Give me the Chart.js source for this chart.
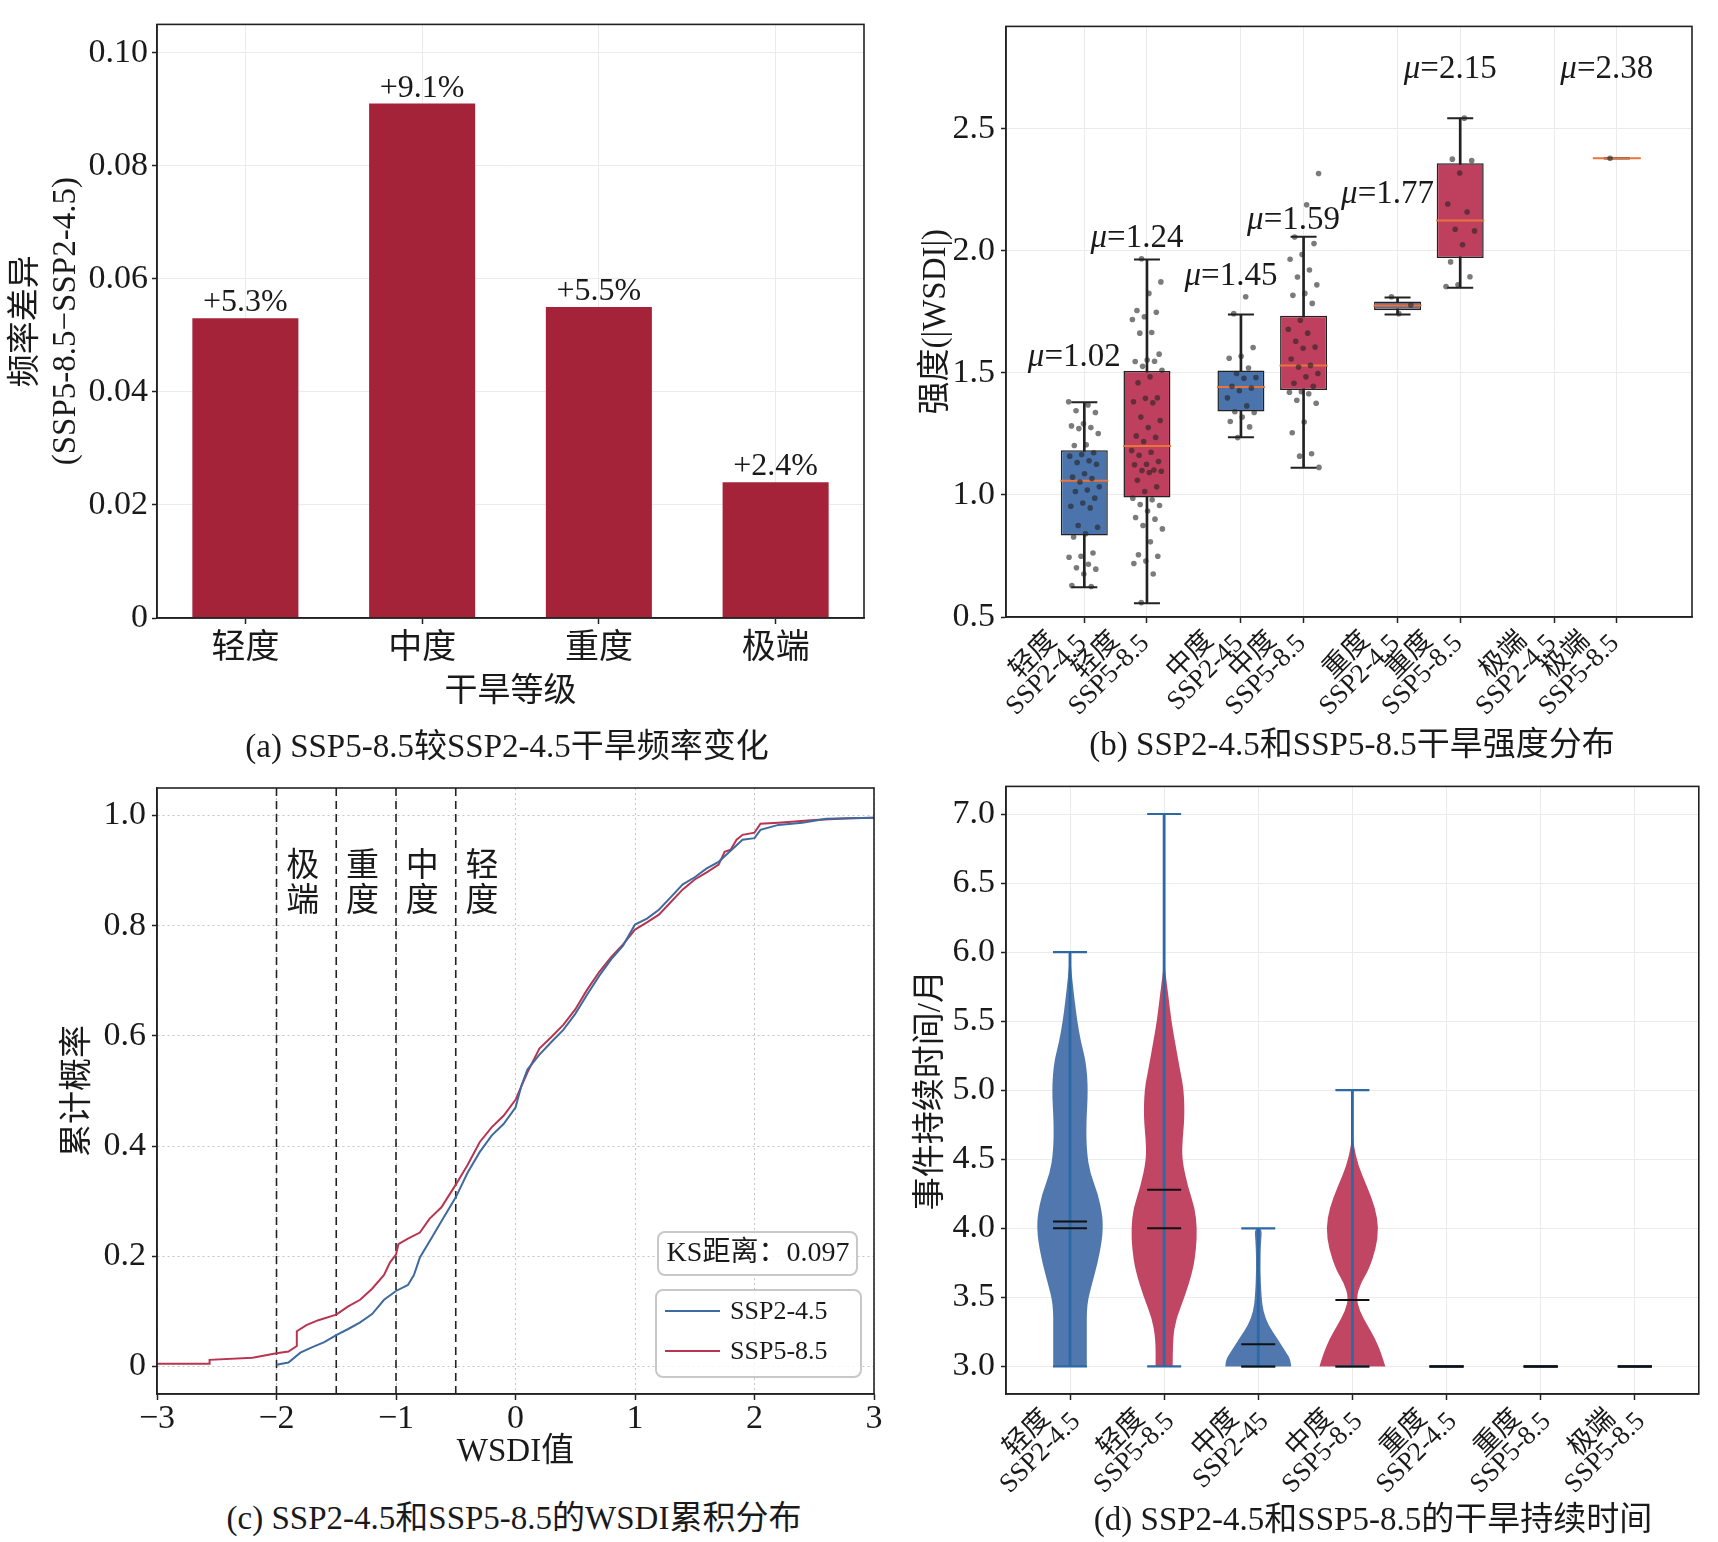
<!DOCTYPE html>
<html>
<head>
<meta charset="utf-8">
<script src="https://cdn.jsdelivr.net/npm/chart.js@4.4.1/dist/chart.umd.min.js"></script>
<style>
  body { margin: 0; background: #fff; width: 1718px; height: 1542px; position: relative; overflow: hidden; }
  canvas { position: absolute; }
  .cap { position: absolute; font: 33px 'Liberation Serif', 'Noto Sans CJK SC', serif; color: #1a1a1a;
         transform: translate(-50%, -50%); white-space: nowrap; }
</style>
</head>
<body>
<canvas id="ca" width="880" height="720" style="left:0;top:0"></canvas>
<canvas id="cb" width="838" height="730" style="left:880px;top:0"></canvas>
<canvas id="cc" width="895" height="720" style="left:0;top:760px"></canvas>
<canvas id="cd" width="838" height="780" style="left:880px;top:760px"></canvas>
<div class="cap" style="left:507px;top:743px">(a) SSP5-8.5较SSP2-4.5干旱频率变化</div>
<div class="cap" style="left:1352px;top:741px">(b) SSP2-4.5和SSP5-8.5干旱强度分布</div>
<div class="cap" style="left:514px;top:1515px">(c) SSP2-4.5和SSP5-8.5的WSDI累积分布</div>
<div class="cap" style="left:1373px;top:1516px">(d) SSP2-4.5和SSP5-8.5的干旱持续时间</div>
<script>
// ---- (a) 频率差异 ----
const droughtLevels = ['轻度', '中度', '重度', '极端'];
const freqDiff = [0.053, 0.091, 0.055, 0.024];
const freqTicks = [0, 0.02, 0.04, 0.06, 0.08, 0.10];

// ---- (b) 干旱强度箱线图 ----
const boxLabels = [['轻度', 'SSP2-4.5'], ['轻度', 'SSP5-8.5'], ['中度', 'SSP2-45'], ['中度', 'SSP5-8.5'],
                   ['重度', 'SSP2-4.5'], ['重度', 'SSP5-8.5'], ['极端', 'SSP2-4.5'], ['极端', 'SSP5-8.5']];
const boxPos = [-0.2, 0.2, 0.8, 1.2, 1.8, 2.2, 2.8, 3.2];
const boxQ1 = [0.834, 0.990, 1.342, 1.430, 1.757, 1.971, null, 2.38];
const boxQ3 = [1.183, 1.508, 1.510, 1.734, 1.793, 2.359, null, 2.38];
const boxMedian = [1.058, 1.201, 1.442, 1.531, 1.776, 2.125, null, 2.38];
const boxLow = [0.622, 0.556, 1.237, 1.112, 1.739, 1.849, null, 2.38];
const boxHigh = [1.380, 1.965, 1.739, 2.058, 1.809, 2.544, null, 2.38];
const boxMean = [1.02, 1.24, 1.45, 1.59, 1.77, 2.15, null, 2.38];
const muLabelY = [1.566, 2.052, 1.894, 2.125, 2.232, 2.743, null, 2.743];
const intensityTicks = [0.5, 1.0, 1.5, 2.0, 2.5];

const ptsLight245 = [1.382, 1.369, 1.345, 1.338, 1.292, 1.283, 1.276, 1.272, 1.252, 1.206, 1.203, 1.173, 1.166, 1.159,
  1.140, 1.133, 1.126, 1.087, 1.073, 1.067, 1.053, 1.034, 1.020, 1.014, 0.987, 0.967, 0.954, 0.947, 0.875, 0.868,
  0.841, 0.828, 0.762, 0.749, 0.745, 0.716, 0.702, 0.696, 0.676, 0.629, 0.625];
const ptsLight585 = [1.968, 1.873, 1.826, 1.756, 1.749, 1.730, 1.719, 1.666, 1.663, 1.577, 1.553, 1.547, 1.548, 1.527,
  1.511, 1.484, 1.460, 1.398, 1.396, 1.382, 1.378, 1.319, 1.305, 1.276, 1.242, 1.236, 1.219, 1.182, 1.175, 1.163,
  1.137, 1.126, 1.124, 1.102, 1.100, 1.097, 1.092, 1.060, 1.034, 1.014, 0.987, 0.980, 0.961, 0.957, 0.934, 0.908,
  0.901, 0.875, 0.861, 0.808, 0.755, 0.749, 0.729, 0.719, 0.676, 0.559];
const ptsMod245 = [1.812, 1.743, 1.604, 1.568, 1.560, 1.520, 1.498, 1.481, 1.478, 1.445, 1.438, 1.427, 1.398, 1.365,
  1.341, 1.338, 1.319, 1.301, 1.279, 1.235];
const ptsMod585 = [2.317, 2.189, 2.057, 2.030, 1.985, 1.966, 1.922, 1.893, 1.861, 1.826, 1.818, 1.785, 1.716, 1.679,
  1.663, 1.630, 1.606, 1.601, 1.557, 1.531, 1.524, 1.498, 1.484, 1.458, 1.445, 1.423, 1.421, 1.415, 1.388, 1.376,
  1.299, 1.255, 1.169, 1.159, 1.113];
const ptsSev245 = [1.812, 1.778, 1.743];
const ptsSev585 = [2.544, 2.376, 2.370, 2.319, 2.192, 2.159, 2.089, 2.082, 2.025, 1.955, 1.894, 1.861, 1.854];
const ptsExt245 = [];
const ptsExt585 = [2.38];
const boxPoints = [ptsLight245, ptsLight585, ptsMod245, ptsMod585, ptsSev245, ptsSev585, ptsExt245, ptsExt585];

// ---- (c) WSDI 累积分布 ----
const cdfX245 = [-2.0, -1.9, -1.8, -1.7, -1.6, -1.5, -1.4, -1.3, -1.2, -1.1, -1.0, -0.9, -0.85, -0.8, -0.7, -0.6,
  -0.5, -0.4, -0.3, -0.2, -0.1, 0, 0.05, 0.1, 0.2, 0.3, 0.4, 0.5, 0.6, 0.7, 0.8, 0.9, 1.0, 1.1, 1.2, 1.3, 1.4, 1.5,
  1.6, 1.7, 1.8, 1.9, 2.0, 2.05, 2.2, 2.4, 2.6, 3.0];
const cdfY245 = [0.003, 0.007, 0.025, 0.035, 0.044, 0.057, 0.068, 0.080, 0.095, 0.121, 0.137, 0.148, 0.166, 0.198,
  0.234, 0.271, 0.307, 0.352, 0.389, 0.419, 0.440, 0.470, 0.510, 0.539, 0.566, 0.589, 0.611, 0.640, 0.675, 0.709,
  0.739, 0.764, 0.802, 0.813, 0.829, 0.852, 0.875, 0.888, 0.904, 0.916, 0.936, 0.956, 0.959, 0.974, 0.983, 0.987,
  0.994, 0.996];
const cdfX585 = [-3.0, -2.56, -2.56, -2.2, -2.0, -1.9, -1.83, -1.83, -1.75, -1.65, -1.5, -1.4, -1.3, -1.2, -1.1,
  -1.05, -1.0, -0.98, -0.9, -0.8, -0.72, -0.62, -0.5, -0.4, -0.3, -0.2, -0.1, 0, 0.1, 0.2, 0.3, 0.4, 0.5, 0.6, 0.7,
  0.8, 0.9, 1.0, 1.1, 1.2, 1.3, 1.4, 1.5, 1.6, 1.7, 1.75, 1.8, 1.85, 1.9, 2.0, 2.05, 2.2, 2.5, 2.8, 3.0];
const cdfY585 = [0.005, 0.005, 0.012, 0.016, 0.024, 0.027, 0.037, 0.064, 0.075, 0.084, 0.094, 0.109, 0.121, 0.141,
  0.166, 0.189, 0.203, 0.222, 0.232, 0.243, 0.268, 0.289, 0.330, 0.366, 0.407, 0.434, 0.455, 0.484, 0.534, 0.577,
  0.598, 0.620, 0.648, 0.684, 0.716, 0.743, 0.766, 0.793, 0.806, 0.820, 0.843, 0.866, 0.884, 0.897, 0.911, 0.934,
  0.938, 0.956, 0.965, 0.969, 0.985, 0.987, 0.992, 0.995, 0.996];
const thresholds = [-2, -1.5, -1, -0.5];
const thresholdNames = ['极端', '重度', '中度', '轻度'];
const ksDistance = 0.097;
const wsdiTicks = [-3, -2, -1, 0, 1, 2, 3];
const probTicks = [0, 0.2, 0.4, 0.6, 0.8, 1.0];

// ---- (d) 干旱持续时间小提琴图 ----
const durLabels = [['轻度', 'SSP2-4.5'], ['轻度', 'SSP5-8.5'], ['中度', 'SSP2-45'], ['中度', 'SSP5-8.5'],
                   ['重度', 'SSP2-4.5'], ['重度', 'SSP5-8.5'], ['极端', 'SSP5-8.5']];
const durPos = [0, 1, 2, 3, 4, 5, 6];
const durMin = [3, 3, 3, 3, 3, 3, 3];
const durMax = [6, 7, 4, 5, 3, 3, 3];
const durMean = [4.05, 4.28, 3.16, 3.48, 3, 3, 3];
const durMedian = [4, 4, 3, 3, 3, 3, 3];
const durTicks = [3.0, 3.5, 4.0, 4.5, 5.0, 5.5, 6.0, 6.5, 7.0];
const violinLevels = [
  [3.0, 3.25, 3.45, 3.6, 3.75, 3.9, 4.0, 4.1, 4.25, 4.4, 4.55, 4.75, 5.0, 5.2, 5.35, 5.5, 5.65, 5.8, 5.9, 6.0],
  [3.0, 3.2, 3.35, 3.5, 3.7, 3.85, 4.0, 4.15, 4.3, 4.5, 4.65, 4.8, 5.0, 5.15, 5.35, 5.5, 5.7, 5.85, 5.95],
  [3.0, 3.05, 3.1, 3.2, 3.3, 3.4, 3.5, 3.7, 3.9, 4.0],
  [3.0, 3.1, 3.2, 3.3, 3.4, 3.5, 3.6, 3.7, 3.85, 4.0, 4.15, 4.3, 4.45, 4.6, 4.7],
  [], [], []
];
const violinDensity = [
  [0.51, 0.51, 0.51, 0.67, 0.84, 0.96, 1.0, 0.98, 0.85, 0.61, 0.51, 0.49, 0.55, 0.49, 0.33, 0.22, 0.14, 0.07, 0.03, 0],
  [0.26, 0.26, 0.37, 0.62, 0.88, 0.97, 1.0, 0.93, 0.72, 0.54, 0.56, 0.62, 0.60, 0.48, 0.33, 0.22, 0.12, 0.04, 0],
  [1.0, 0.98, 0.85, 0.58, 0.30, 0.15, 0.10, 0.06, 0.08, 0.12],
  [1.0, 0.87, 0.69, 0.45, 0.22, 0.12, 0.25, 0.50, 0.71, 0.80, 0.69, 0.45, 0.18, 0.04, 0],
  [], [], []
];

// ---- 样式 ----
const FONT = "'Liberation Serif', 'Noto Sans CJK SC', serif";
const TEXT = '#1a1a1a';
const AXIS = '#222222';
const GRID = '#ebebeb';
const BAR_RED = '#a52338';
const BLUE = '#4a74ab';
const RED = '#bf405e';
const PURPLE = '#6e6b88';
const MEDIAN = '#e8743b';
const DOT = 'rgba(35,35,35,0.6)';
const CDF_BLUE = '#3e6b9f';
const CDF_RED = '#b73550';
const VIOLIN_LINE = '#2d6aa5';
const VIOLIN_HALF = 0.35;
const PAD = '\u2002\u2009';   // 让两行旋转标签大致居中

Chart.defaults.font.family = FONT;
Chart.defaults.color = TEXT;
Chart.defaults.animation = false;
Chart.defaults.events = [];
Chart.defaults.plugins.legend.display = false;
Chart.defaults.plugins.tooltip.enabled = false;

const fixW = w => s => { s.width = w; };
const fixH = h => s => { s.height = h; };
const setTicks = vals => s => { s.ticks = vals.map(v => ({ value: v })); };
const scenColor = lbl => (lbl[1].startsWith('SSP2') ? BLUE : RED);
const jitter = k => (((k * 0.6180339887) % 1) - 0.5) * 0.2;
const twoLine = lbl => [lbl[0] + PAD, lbl[1]];

// 四周边框
Chart.register({
  id: 'frame',
  afterDraw(chart) {
    const { ctx, chartArea: a } = chart;
    ctx.save();
    ctx.strokeStyle = AXIS;
    ctx.lineWidth = 1.6;
    ctx.strokeRect(a.left, a.top, a.width, a.height);
    ctx.restore();
  }
});

function gridOpts(extra) {
  return Object.assign({ color: GRID, offset: false, tickLength: 5, tickColor: AXIS, tickWidth: 1.5 }, extra || {});
}

// ================= (a) =================
const barLabelPlugin = {
  id: 'barLabels',
  afterDatasetsDraw(chart) {
    const { ctx } = chart;
    ctx.save();
    ctx.font = `32px ${FONT}`;
    ctx.fillStyle = TEXT;
    ctx.textAlign = 'center';
    ctx.textBaseline = 'alphabetic';
    chart.getDatasetMeta(0).data.forEach((bar, i) => {
      ctx.fillText('+' + (freqDiff[i] * 100).toFixed(1) + '%', bar.x, bar.y - 7);
    });
    ctx.restore();
  }
};

new Chart(document.getElementById('ca'), {
  type: 'bar',
  data: {
    labels: droughtLevels,
    datasets: [{ data: freqDiff, backgroundColor: BAR_RED, barPercentage: 0.6, categoryPercentage: 1 }]
  },
  options: {
    responsive: false,
    layout: { padding: { top: 9, right: 16, left: 0, bottom: 0 } },
    scales: {
      x: {
        grid: gridOpts({ tickLength: 6 }),
        border: { color: AXIS, width: 1.5 },
        ticks: { font: { size: 34 }, padding: 5 },
        title: { display: true, text: '干旱等级', font: { size: 33 }, padding: { top: 0, bottom: 8 } },
        afterFit: fixH(102)
      },
      y: {
        min: 0, max: 0.105,
        afterBuildTicks: setTicks(freqTicks),
        grid: gridOpts(),
        border: { color: AXIS, width: 1.5 },
        ticks: { font: { size: 34 }, padding: 4, callback: v => (v === 0 ? '0' : v.toFixed(2)) },
        title: { display: true, text: ['频率差异', '(SSP5-8.5−SSP2-4.5)'], font: { size: 33 }, padding: { top: 7, bottom: 0 } },
        afterFit: fixW(157)
      }
    }
  },
  plugins: [barLabelPlugin]
});

// ================= (b) =================
const boxIdx = boxPos.map((p, i) => i).filter(i => boxQ1[i] != null);
const whiskerData = boxIdx.map(i => ({ x: boxPos[i], y: [boxLow[i], boxHigh[i]] }));
const boxData = boxIdx.map(i => ({ x: boxPos[i], y: [boxQ1[i], boxQ3[i]] }));
const boxFill = boxIdx.map(i => (boxLabels[i][0] === '重度' && boxLabels[i][1].startsWith('SSP2') ? PURPLE : scenColor(boxLabels[i])));
const capData = boxIdx.flatMap(i => [{ x: boxPos[i], y: boxLow[i] }, { x: boxPos[i], y: boxHigh[i] }]);
const medianData = boxIdx.map(i => ({ x: boxPos[i], y: boxMedian[i] }));
const jitterData = [];
boxPoints.forEach((pts, i) => pts.forEach((v, k) => jitterData.push({ x: boxPos[i] + jitter(k + i * 7), y: v })));

const muPlugin = {
  id: 'muLabels',
  afterDatasetsDraw(chart) {
    const { ctx, scales: { x, y } } = chart;
    ctx.save();
    ctx.fillStyle = TEXT;
    ctx.textBaseline = 'middle';
    ctx.textAlign = 'left';
    boxMean.forEach((m, i) => {
      if (m == null) return;
      const px = x.getPixelForValue(boxPos[i]) - 10;
      const py = y.getPixelForValue(muLabelY[i]);
      const rest = '=' + m.toFixed(2);
      ctx.font = `italic 33px ${FONT}`;
      const w1 = ctx.measureText('μ').width;
      ctx.font = `33px ${FONT}`;
      const w2 = ctx.measureText(rest).width;
      const x0 = px - (w1 + w2) / 2;
      ctx.font = `italic 33px ${FONT}`;
      ctx.fillText('μ', x0, py);
      ctx.font = `33px ${FONT}`;
      ctx.fillText(rest, x0 + w1, py);
    });
    ctx.restore();
  }
};

new Chart(document.getElementById('cb'), {
  type: 'bar',
  data: {
    datasets: [
      { type: 'bar', data: whiskerData, backgroundColor: AXIS, barThickness: 2, grouped: false, order: 5 },
      { type: 'bar', data: boxData, backgroundColor: boxFill, borderColor: AXIS, borderWidth: 1.5,
        borderSkipped: false, barPercentage: 0.75, categoryPercentage: 1, grouped: false, order: 4 },
      { type: 'scatter', data: capData, pointStyle: 'line', pointRadius: 13, pointBorderColor: AXIS,
        pointBorderWidth: 2, order: 3 },
      { type: 'scatter', data: medianData, pointStyle: 'line', pointRadius: 24, pointBorderColor: MEDIAN,
        pointBorderWidth: 2, order: 2 },
      { type: 'scatter', data: jitterData, pointRadius: 2.8, pointBackgroundColor: DOT, pointBorderWidth: 0, order: 1 }
    ]
  },
  options: {
    responsive: false,
    layout: { padding: { top: 9, right: 3, left: 0, bottom: 0 } },
    scales: {
      x: {
        type: 'linear', min: -0.7, max: 3.68, offset: false,
        afterBuildTicks: setTicks(boxPos),
        grid: gridOpts({ tickLength: 6 }),
        border: { color: AXIS, width: 1.5 },
        ticks: { font: { size: 27, lineHeight: 0.85 }, autoSkip: false, minRotation: 45, maxRotation: 45,
                 padding: -8, labelOffset: -18, callback: (v, i) => twoLine(boxLabels[i]) },
        afterFit: fixH(113)
      },
      y: {
        min: 0.5, max: 2.92,
        afterBuildTicks: setTicks(intensityTicks),
        grid: gridOpts(),
        border: { color: AXIS, width: 1.5 },
        ticks: { font: { size: 34 }, padding: 6, callback: v => v.toFixed(1) },
        title: { display: true, text: '强度(|WSDI|)', font: { size: 33 }, padding: { top: 37, bottom: 0 } },
        afterFit: fixW(126)
      }
    }
  },
  plugins: [muPlugin]
});

// ================= (c) =================
const thresholdPlugin = {
  id: 'thresholds',
  beforeDatasetsDraw(chart) {
    const { ctx, scales: { x, y }, chartArea: a } = chart;
    ctx.save();
    ctx.strokeStyle = AXIS;
    ctx.lineWidth = 1.6;
    ctx.setLineDash([8, 5]);
    thresholds.forEach(t => {
      const px = x.getPixelForValue(t);
      ctx.beginPath();
      ctx.moveTo(px, a.top);
      ctx.lineTo(px, a.bottom);
      ctx.stroke();
    });
    ctx.setLineDash([]);
    ctx.fillStyle = TEXT;
    ctx.font = `33px ${FONT}`;
    ctx.textAlign = 'center';
    ctx.textBaseline = 'middle';
    thresholds.forEach((t, i) => {
      const px = x.getPixelForValue(t + 0.22);
      ctx.fillText(thresholdNames[i][0], px, y.getPixelForValue(0.906));
      ctx.fillText(thresholdNames[i][1], px, y.getPixelForValue(0.842));
    });
    ctx.restore();
  }
};

function roundBox(ctx, x, y, w, h) {
  ctx.beginPath();
  ctx.roundRect(x, y, w, h, 7);
  ctx.fillStyle = 'rgba(255,255,255,0.85)';
  ctx.fill();
  ctx.strokeStyle = '#c8c8c8';
  ctx.lineWidth = 2;
  ctx.stroke();
}

const cdfLegendPlugin = {
  id: 'cdfLegend',
  afterDatasetsDraw(chart) {
    const { ctx, chartArea: a } = chart;
    ctx.save();
    const kx = a.right - 216, ky = a.bottom - 162;
    roundBox(ctx, kx, ky, 199, 43);
    ctx.fillStyle = TEXT;
    ctx.font = `28px ${FONT}`;
    ctx.textAlign = 'center';
    ctx.textBaseline = 'middle';
    ctx.fillText('KS距离：' + ksDistance.toFixed(3), kx + 100, ky + 22);
    const lx = a.right - 218, ly = a.bottom - 104;
    roundBox(ctx, lx, ly, 205, 87);
    ctx.font = `26px ${FONT}`;
    ctx.textAlign = 'left';
    chart.data.datasets.forEach((ds, i) => {
      const yy = ly + 21 + i * 40;
      ctx.strokeStyle = ds.borderColor;
      ctx.lineWidth = 2;
      ctx.beginPath();
      ctx.moveTo(lx + 9, yy);
      ctx.lineTo(lx + 64, yy);
      ctx.stroke();
      ctx.fillStyle = TEXT;
      ctx.fillText(ds.label, lx + 74, yy + 1);
    });
    ctx.restore();
  }
};

const zip = (xs, ys) => xs.map((v, i) => ({ x: v, y: ys[i] }));

new Chart(document.getElementById('cc'), {
  type: 'scatter',
  data: {
    datasets: [
      { label: 'SSP2-4.5', data: zip(cdfX245, cdfY245), showLine: true, borderColor: CDF_BLUE, borderWidth: 2,
        pointRadius: 0 },
      { label: 'SSP5-8.5', data: zip(cdfX585, cdfY585), showLine: true, borderColor: CDF_RED, borderWidth: 2,
        pointRadius: 0 }
    ]
  },
  options: {
    responsive: false,
    layout: { padding: { top: 28, right: 21, left: 0, bottom: 0 } },
    scales: {
      x: {
        type: 'linear', min: -3, max: 3,
        afterBuildTicks: setTicks(wsdiTicks),
        grid: gridOpts({ color: '#c4c4c4', tickLength: 6, tickBorderDash: [] }),
        border: { color: AXIS, width: 1.5, dash: [2, 3] },
        ticks: { font: { size: 34 }, padding: -1, callback: v => (v < 0 ? '−' + Math.abs(v) : String(v)) },
        title: { display: true, text: 'WSDI值', font: { size: 33 }, padding: { top: 0, bottom: 8 } },
        afterFit: fixH(86)
      },
      y: {
        min: -0.05, max: 1.05,
        afterBuildTicks: setTicks(probTicks),
        grid: gridOpts({ color: '#c4c4c4', tickBorderDash: [] }),
        border: { color: AXIS, width: 1.5, dash: [2, 3] },
        ticks: { font: { size: 34 }, padding: 6, callback: v => (v === 0 ? '0' : v.toFixed(1)) },
        title: { display: true, text: '累计概率', font: { size: 33 }, padding: { top: 59, bottom: 0 } },
        afterFit: fixW(157)
      }
    }
  },
  plugins: [thresholdPlugin, cdfLegendPlugin]
});

// ================= (d) =================
function smoothPath(ctx, pts) {
  ctx.moveTo(pts[0][0], pts[0][1]);
  for (let k = 1; k < pts.length - 1; k++) {
    const mx = (pts[k][0] + pts[k + 1][0]) / 2, my = (pts[k][1] + pts[k + 1][1]) / 2;
    ctx.quadraticCurveTo(pts[k][0], pts[k][1], mx, my);
  }
  const last = pts[pts.length - 1];
  ctx.lineTo(last[0], last[1]);
}

const violinPlugin = {
  id: 'violins',
  beforeDatasetsDraw(chart) {
    const { ctx, scales: { x, y }, chartArea: a } = chart;
    ctx.save();
    ctx.beginPath();
    ctx.rect(a.left, a.top, a.width, a.height);
    ctx.clip();
    violinLevels.forEach((levels, i) => {
      if (!levels.length) return;
      const dens = violinDensity[i];
      const right = levels.map((v, k) => [x.getPixelForValue(durPos[i] + dens[k] * VIOLIN_HALF), y.getPixelForValue(v)]);
      const left = levels.map((v, k) => [x.getPixelForValue(durPos[i] - dens[k] * VIOLIN_HALF), y.getPixelForValue(v)]).reverse();
      ctx.beginPath();
      smoothPath(ctx, right.concat(left));
      ctx.closePath();
      ctx.fillStyle = scenColor(durLabels[i]);
      ctx.globalAlpha = 0.97;
      ctx.fill();
    });
    ctx.restore();
  }
};

const centreData = durPos.map((p, i) => ({ x: p, y: [durMin[i], durMax[i]] }));
const durCapData = durPos.flatMap((p, i) => [{ x: p, y: durMin[i] }, { x: p, y: durMax[i] }]);
const durStatData = durPos.flatMap((p, i) => [{ x: p, y: durMean[i] }, { x: p, y: durMedian[i] }]);

new Chart(document.getElementById('cd'), {
  type: 'bar',
  data: {
    datasets: [
      { type: 'bar', data: centreData, backgroundColor: VIOLIN_LINE, barThickness: 2.2, grouped: false, order: 3 },
      { type: 'scatter', data: durCapData, pointStyle: 'line', pointRadius: 17, pointBorderColor: VIOLIN_LINE,
        pointBorderWidth: 2.2, order: 2 },
      { type: 'scatter', data: durStatData, pointStyle: 'line', pointRadius: 17, pointBorderColor: '#111',
        pointBorderWidth: 2, order: 1 }
    ]
  },
  options: {
    responsive: false,
    layout: { padding: { top: 25, right: 3, left: 0, bottom: 0 } },
    scales: {
      x: {
        type: 'linear', min: -0.68, max: 6.68, offset: false,
        afterBuildTicks: setTicks(durPos),
        grid: gridOpts({ tickLength: 6 }),
        border: { color: AXIS, width: 1.5 },
        ticks: { font: { size: 27, lineHeight: 0.85 }, autoSkip: false, minRotation: 45, maxRotation: 45,
                 padding: -7, labelOffset: -10, callback: (v, i) => twoLine(durLabels[i]) },
        afterFit: fixH(146)
      },
      y: {
        min: 2.8, max: 7.2,
        afterBuildTicks: setTicks(durTicks),
        grid: gridOpts(),
        border: { color: AXIS, width: 1.5 },
        ticks: { font: { size: 34 }, padding: 6, callback: v => v.toFixed(1) },
        title: { display: true, text: '事件持续时间/月', font: { size: 33 }, padding: { top: 32, bottom: 0 } },
        afterFit: fixW(126)
      }
    }
  },
  plugins: [violinPlugin]
});
</script>
</body>
</html>
